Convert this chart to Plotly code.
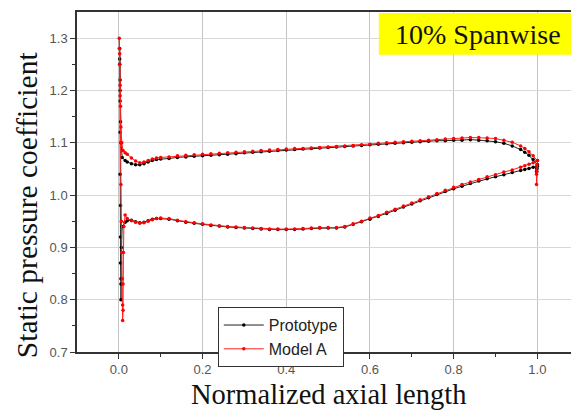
import plotly.graph_objects as go

# Normalized axial positions shared by both blade surfaces (leading edge -> trailing edge)
x_surface = [0.015, 0.02, 0.03, 0.04, 0.05, 0.06, 0.07, 0.08, 0.09, 0.10,
             0.12, 0.14, 0.16, 0.18, 0.20, 0.22, 0.24, 0.26, 0.28, 0.30,
             0.32, 0.34, 0.36, 0.38, 0.40, 0.42, 0.44, 0.46, 0.48, 0.50,
             0.52, 0.54, 0.56, 0.58, 0.60, 0.62, 0.64, 0.66, 0.68, 0.70,
             0.72, 0.74, 0.76, 0.78, 0.80, 0.82, 0.84, 0.86, 0.88, 0.90,
             0.92, 0.94, 0.96, 0.97, 0.98, 0.99, 1.00]

# Prototype: pressure side (upper branch) and suction side (lower branch)
proto_pressure = [1.066, 1.063, 1.060, 1.058, 1.058, 1.060, 1.063, 1.066, 1.068, 1.069,
                  1.070, 1.072, 1.073, 1.074, 1.075, 1.076, 1.077, 1.078, 1.079, 1.081,
                  1.082, 1.083, 1.084, 1.085, 1.086, 1.087, 1.088, 1.089, 1.090, 1.091,
                  1.092, 1.093, 1.094, 1.095, 1.096, 1.097, 1.098, 1.099, 1.100, 1.101,
                  1.102, 1.103, 1.104, 1.104, 1.105, 1.105, 1.106, 1.105, 1.104, 1.102,
                  1.099, 1.094, 1.087, 1.082, 1.076, 1.068, 1.058]
proto_suction = [0.948, 0.951, 0.952, 0.949, 0.947, 0.948, 0.951, 0.954, 0.955, 0.955,
                 0.954, 0.951, 0.948, 0.946, 0.944, 0.942, 0.941, 0.939, 0.938, 0.937,
                 0.936, 0.935, 0.934, 0.934, 0.934, 0.934, 0.935, 0.936, 0.937, 0.937,
                 0.937, 0.939, 0.944, 0.949, 0.954, 0.959, 0.965, 0.971, 0.977, 0.983,
                 0.989, 0.995, 1.001, 1.007, 1.012, 1.017, 1.022, 1.027, 1.031, 1.035,
                 1.039, 1.043, 1.047, 1.049, 1.051, 1.053, 1.055]

# Model A: pressure side and suction side
model_pressure = [1.081, 1.078, 1.071, 1.065, 1.062, 1.063, 1.066, 1.069, 1.071, 1.072,
                  1.073, 1.075, 1.076, 1.077, 1.078, 1.079, 1.080, 1.081, 1.082, 1.083,
                  1.084, 1.085, 1.086, 1.087, 1.088, 1.089, 1.089, 1.090, 1.091, 1.092,
                  1.093, 1.094, 1.095, 1.096, 1.097, 1.099, 1.100, 1.101, 1.102, 1.103,
                  1.104, 1.105, 1.106, 1.107, 1.108, 1.109, 1.110, 1.110, 1.109, 1.108,
                  1.105, 1.101, 1.094, 1.089, 1.083, 1.075, 1.066]
model_suction = [0.962, 0.955, 0.951, 0.948, 0.946, 0.947, 0.950, 0.953, 0.955, 0.956,
                 0.955, 0.952, 0.949, 0.947, 0.945, 0.943, 0.941, 0.940, 0.939, 0.938,
                 0.937, 0.936, 0.935, 0.935, 0.935, 0.935, 0.936, 0.937, 0.938, 0.938,
                 0.938, 0.940, 0.945, 0.950, 0.956, 0.961, 0.967, 0.973, 0.979, 0.985,
                 0.991, 0.997, 1.003, 1.009, 1.015, 1.020, 1.025, 1.030, 1.035, 1.039,
                 1.044, 1.048, 1.053, 1.056, 1.059, 1.062, 1.066]

# Leading-edge nose points (pressure side -> suction side)
proto_nose_x = [0.008, 0.005, 0.004, 0.003, 0.003, 0.002, 0.002, 0.002, 0.003, 0.003,
                0.003, 0.004, 0.004, 0.004, 0.005, 0.005, 0.005, 0.006, 0.008]
proto_nose_y = [1.072, 1.100, 1.140, 1.180, 1.220, 1.250, 1.280, 1.260, 1.200, 1.120,
                1.040, 0.980, 0.920, 0.870, 0.830, 0.800, 0.840, 0.900, 0.940]
model_nose_x = [0.010, 0.007, 0.005, 0.004, 0.003, 0.002, 0.001, 0.001, 0.002, 0.003,
                0.004, 0.005, 0.006, 0.007, 0.008, 0.009, 0.009, 0.010, 0.010, 0.011, 0.012]
model_nose_y = [1.085, 1.100, 1.130, 1.170, 1.210, 1.250, 1.280, 1.300, 1.270, 1.190,
                1.100, 1.020, 0.950, 0.890, 0.840, 0.790, 0.760, 0.780, 0.830, 0.890, 0.940]

# Trailing-edge closing points
proto_te_x = [0.999, 0.998, 0.999, 1.000]
proto_te_y = [1.050, 1.045, 1.052, 1.058]
model_te_x = [0.999, 0.998, 0.998, 0.999, 1.000]
model_te_y = [1.058, 1.040, 1.020, 1.045, 1.066]


def blade_loop(pressure, suction, nose_x, nose_y, te_x, te_y):
    """Walk round the blade: pressure side TE->LE, nose, suction side LE->TE, TE."""
    xs = x_surface[::-1] + nose_x + x_surface + te_x
    ys = pressure[::-1] + nose_y + suction + te_y
    return xs, ys


px, py = blade_loop(proto_pressure, proto_suction, proto_nose_x, proto_nose_y,
                    proto_te_x, proto_te_y)
mx, my = blade_loop(model_pressure, model_suction, model_nose_x, model_nose_y,
                    model_te_x, model_te_y)

fig = go.Figure()
fig.add_trace(go.Scatter(
    x=px, y=py, mode="lines+markers", name="Prototype",
    line=dict(color="#222222", width=1),
    marker=dict(color="black", size=3.5),
))
fig.add_trace(go.Scatter(
    x=mx, y=my, mode="lines+markers", name="Model A",
    line=dict(color="#ff2020", width=1),
    marker=dict(color="#ff0000", size=3.5),
))

tick_font = dict(family="Liberation Sans, Arial", size=13, color="#555555")
serif = "Liberation Serif, Times New Roman"

fig.update_xaxes(
    range=[-0.1, 1.0804],
    tickvals=[0.0, 0.2, 0.4, 0.6, 0.8, 1.0],
    ticktext=["0.0", "0.2", "0.4", "0.6", "0.8", "1.0"],
    ticks="outside", ticklen=5, tickcolor="#333333",
    minor=dict(tickvals=[0.1, 0.3, 0.5, 0.7, 0.9], ticks="outside", ticklen=3,
               tickcolor="#333333", showgrid=False),
    showgrid=True, gridcolor="#c4c4c4", gridwidth=1,
    showline=True, linecolor="#333333", linewidth=1.5, mirror=True,
    zeroline=False,
    tickfont=tick_font,
)
fig.update_yaxes(
    range=[0.7, 1.35],
    tickvals=[0.7, 0.8, 0.9, 1.0, 1.1, 1.2, 1.3],
    ticktext=["0.7", "0.8", "0.9", "1.0", "1.1", "1.2", "1.3"],
    ticks="outside", ticklen=5, tickcolor="#333333",
    minor=dict(tickvals=[0.75, 0.85, 0.95, 1.05, 1.15, 1.25], ticks="outside",
               ticklen=3, tickcolor="#333333", showgrid=False),
    showgrid=True, gridcolor="#d8d8d8", gridwidth=1,
    showline=True, linecolor="#333333", linewidth=1.5,
    zeroline=False,
    tickfont=tick_font,
)

# Axis titles
fig.add_annotation(text="Normalized axial length", xref="paper", yref="paper",
                   x=0.51, y=-0.124, xanchor="center", yanchor="middle",
                   showarrow=False, font=dict(family=serif, size=28.5, color="#111111"))
fig.add_annotation(text="Static pressure coefficient", xref="paper", yref="paper",
                   x=-0.101, y=0.432, xanchor="center", yanchor="middle",
                   textangle=-90, showarrow=False,
                   font=dict(family=serif, size=29.5, color="#111111"))

# Span label box in the upper-right corner
fig.add_shape(type="rect", xref="paper", yref="paper",
              x0=0.611, x1=1.0, y0=0.874, y1=0.997,
              fillcolor="#ffff00", line=dict(width=0), layer="above")
fig.add_annotation(text="10% Spanwise", xref="paper", yref="paper",
                   x=0.812, y=0.935, xanchor="center", yanchor="middle",
                   showarrow=False,
                   font=dict(family=serif, size=28, color="#111111"))

fig.update_layout(
    width=571, height=410,
    margin=dict(l=77, r=0, t=12, b=58, autoexpand=False),
    plot_bgcolor="white", paper_bgcolor="white",
    showlegend=True,
    legend=dict(x=0.285, y=0.132, xanchor="left", yanchor="top",
                bgcolor="white", bordercolor="#333333", borderwidth=1,
                font=dict(family="Liberation Sans, Arial", size=16, color="#222222"),
                tracegroupgap=0, itemwidth=40),
)

fig.write_html("out.html")
